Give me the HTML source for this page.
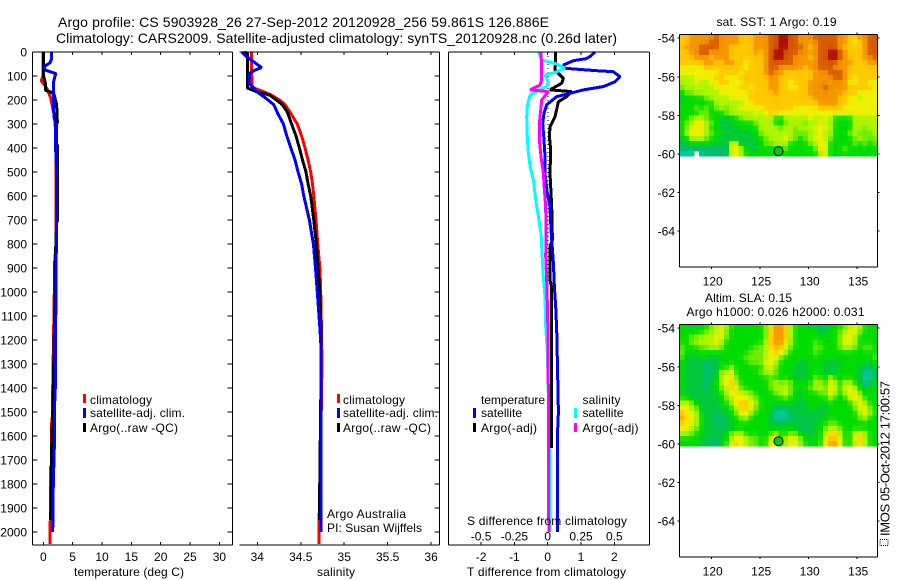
<!DOCTYPE html>
<html lang="en">
<head>
<meta charset="utf-8">
<title>Argo profile</title>
<style>
html,body{margin:0;padding:0;background:#fff;width:900px;height:580px;overflow:hidden}
svg{display:block}
text{font-family:"Liberation Sans",Arial,sans-serif;font-size:12px;fill:#000}
</style>
</head>
<body>
<svg id="chart" xmlns="http://www.w3.org/2000/svg" width="900" height="580" viewBox="0 0 900 580">
  <rect x="0" y="0" width="900" height="580" fill="#fff"/>
  <g id="marks"></g>
  <text x="58" y="27" textLength="491" style="font-size:14px">Argo profile: CS 5903928_26 27-Sep-2012 20120928_256 59.861S 126.886E</text>
  <text x="56" y="43" textLength="561" style="font-size:14px">Climatology: CARS2009. Satellite-adjusted climatology: synTS_20120928.nc (0.26d later)</text>

  <text x="74" y="576" textLength="110">temperature (deg C)</text>
  <text x="317" y="576" textLength="38">salinity</text>
  <text x="467" y="576" textLength="159">T difference from climatology</text>
  <text x="467" y="525" textLength="160">S difference from climatology</text>

  <g>
    <rect x="83" y="394" width="3" height="9" fill="#f00"/>
    <rect x="83" y="408" width="3" height="10" fill="#00f"/>
    <rect x="83" y="423" width="3" height="9" fill="#000"/>
    <text x="90" y="404" textLength="62">climatology</text>
    <text x="90" y="417" textLength="95">satellite-adj. clim.</text>
    <text x="90" y="432" textLength="88">Argo(..raw -QC)</text>
  </g>
  <g>
    <rect x="337" y="394" width="3" height="9" fill="#f00"/>
    <rect x="337" y="408" width="3" height="10" fill="#00f"/>
    <rect x="337" y="423" width="3" height="9" fill="#000"/>
    <text x="343" y="404" textLength="62">climatology</text>
    <text x="343" y="417" textLength="95">satellite-adj. clim.</text>
    <text x="343" y="432" textLength="88">Argo(..raw -QC)</text>
    <text x="327" y="518" textLength="79">Argo Australia</text>
    <text x="327" y="532" textLength="95">PI: Susan Wijffels</text>
  </g>
  <g>
    <text x="481" y="404" textLength="64">temperature</text>
    <text x="582.5" y="404" textLength="38">salinity</text>
    <rect x="473" y="408" width="3" height="10" fill="#00f"/>
    <rect x="473" y="423" width="3" height="9" fill="#000"/>
    <rect x="574" y="408" width="3" height="10" fill="#0ff"/>
    <rect x="574" y="423" width="3" height="9" fill="#f0f"/>
    <text x="481" y="417" textLength="41">satellite</text>
    <text x="481" y="432" textLength="56">Argo(-adj)</text>
    <text x="582.5" y="417" textLength="41">satellite</text>
    <text x="582.5" y="432" textLength="56">Argo(-adj)</text>
  </g>

  <text x="716.5" y="26" textLength="120">sat. SST: 1 Argo: 0.19</text>
  <text x="705" y="302" textLength="87">Altim. SLA: 0.15</text>
  <text x="686.5" y="316" textLength="178">Argo h1000: 0.026 h2000: 0.031</text>

  <g>
    <rect x="880" y="539.5" width="8" height="6" fill="none" stroke="#000" stroke-width="1" stroke-dasharray="1 1"/>
    <text transform="translate(889.5 536) rotate(-90)" x="0" y="0" textLength="155" style="font-size:13px">IMOS 05-Oct-2012 17:00:57</text>
  </g>
</svg>
<script>
// ---- axis ticks ----
const depthTicks = [0,100,200,300,400,500,600,700,800,900,1000,1100,1200,1300,1400,1500,1600,1700,1800,1900,2000];
const tempTicks = [0,5,10,15,20,25,30];
const salinityTicks = [34,34.5,35,35.5,36];
const salinityTickLabels = ['34','34.5','35','35.5','36'];
const tDiffTicks = [-2,-1,0,1,2];
const tDiffTickLabels = ['-2','-1','0','1','2'];
const sDiffTicks = [-0.5,-0.25,0,0.25,0.5];
const sDiffTickLabels = ['-0.5','-0.25','0','0.25','0.5'];
const lonTicks = [120,125,130,135];
const latTicks = [-54,-56,-58,-60,-62,-64];

// ---- temperature profiles ----
const tempClimDepth = [0,100,120,150,190,280,400,800,880,1000,1400,1500,1550,1720,1730,1950,1960,2050];
const tempClimValue = [-0.05,-0.05,-0.35,0.57,1.25,2.0,2.16,2.16,1.93,1.88,1.6,1.6,1.42,1.42,1.25,1.25,1.13,1.13];
const tempArgoDepth = [0,100,130,160,165,175,220,295,300,385,390,705,710,900,1000,1400,1500,1650,1800,1950];
const tempArgoValue = [0.05,0.05,0.35,0.4,1.1,1.8,2.27,2.4,2.27,2.27,2.4,2.4,2.27,2.0,2.0,1.7,1.6,1.42,1.37,1.25];
const tempSatDepth = [0,30,45,60,75,90,100,130,200,270,300,400,500,900,1000,1400,1500,1650,1800,2000];
const tempSatValue = [1.4,1.4,1.14,0.17,0.3,2.15,2.0,1.7,1.7,1.8,2.1,2.1,2.27,2.2,2.15,2.05,1.88,1.88,1.7,1.6];

// ---- salinity profiles ----
const salClimDepth = [0,100,110,140,150,165,180,200,220,250,300,350,400,450,500,550,600,700,800,900,1000,1100,1200,1300,1400,1650,1850,2050];
const salClimValue = [33.935,33.935,33.94,33.94,33.96,34.07,34.165,34.255,34.32,34.375,34.46,34.51,34.55,34.585,34.615,34.635,34.65,34.675,34.695,34.72,34.73,34.735,34.74,34.745,34.74,34.73,34.715,34.71];
const salArgoDepth = [0,5,150,165,180,200,220,250,300,350,400,450,500,550,600,700,800,900,1000,1100,1300,1740,1950];
const salArgoValue = [33.85,33.885,33.885,33.99,34.145,34.22,34.29,34.345,34.395,34.445,34.485,34.52,34.56,34.585,34.615,34.65,34.68,34.70,34.72,34.73,34.735,34.72,34.715];
const salSatDepth = [0,20,40,65,75,90,130,150,170,190,220,260,300,350,400,450,500,550,600,700,800,900,1000,1100,1200,1300,1500,2000];
const salSatValue = [33.82,33.88,33.955,34.05,33.975,33.91,33.905,33.955,34.01,34.09,34.19,34.24,34.30,34.34,34.385,34.435,34.47,34.51,34.535,34.60,34.645,34.67,34.69,34.71,34.73,34.735,34.735,34.735];

// ---- difference profiles ----
const sDiffSatDepth = [0,33,50,68,85,96,124,144,165,179,220,270,367,422,478,533,589,644,728,783,811,922,1019,1144,1255,1435,1650,1660,2000];
const sDiffSatValue = [-0.07,-0.045,0.0675,0.13,0.055,-0.02,0.005,-0.0075,-0.0825,-0.1325,-0.1525,-0.1575,-0.1525,-0.145,-0.1325,-0.1075,-0.095,-0.0825,-0.0575,-0.045,-0.045,-0.035,-0.02,-0.015,-0.0025,0.005,0.005,0.0175,0.0175];
const sDiffArgoDepth = [0,50,117,138,158,165,200,297,367,436,505,575,644,783,850,950,1100,1460,1650,2000];
const sDiffArgoValue = [-0.0525,-0.045,-0.045,-0.0575,-0.1325,0.005,-0.045,-0.0625,-0.0625,-0.05,-0.0325,-0.025,-0.015,-0.0125,-0.015,-0.0075,0,0.005,0.005,0.008];
const tDiffSatDepth = [0,18,28,36,54,68,78,82,103,124,144,158,172,186,220,255,297,367,436,505,575,644,741,880,980,1062,1158,1354,1500,1600,2000];
const tDiffSatValue = [1.42,1.28,1.15,0.78,0.47,0.52,1.47,1.97,2.17,2.02,1.67,1.07,0.67,0.27,-0.03,-0.11,-0.15,-0.11,-0.08,-0.08,-0.03,0.07,0.10,0.17,0.20,0.24,0.27,0.30,0.32,0.29,0.29];
const tDiffArgoDepth = [0,33,75,110,130,158,165,186,207,270,311,353,408,505,644,783,810,950,980,1150,1650];
const tDiffArgoValue = [0.24,0.24,0.22,0.47,0.42,0.07,0.72,0.57,0.32,0.22,0.07,0.05,0.09,0.07,0.12,0.14,0.07,0.07,0.12,0.12,0.12];

// ---- maps: colour level per cell, top row first ----
const levelColors = ['#00cda0','#00be6e','#00c83c','#00dc00','#6eeb00','#aff500','#f0f000','#ffc800','#f59600','#d75a00','#aa0a00'];
const argoLon = 126.886;
const argoLat = -59.861;
const sstGrid = [
[7,7,8,8,8,8,8,9,8,8,8,8,7,7,7,8,8,8,9,9,10,10,9,9,8,8,8,9,9,9,9,9,8,8,7,7,8,8,9,9],
[7,7,8,8,8,8,9,9,8,8,8,8,7,7,7,8,8,8,9,9,10,10,9,9,8,8,8,8,9,9,9,9,8,8,7,6,7,8,9,9],
[7,8,8,8,9,9,9,9,8,8,7,7,7,7,7,8,8,8,9,9,10,10,9,9,9,8,7,8,9,9,9,9,8,7,7,7,7,8,9,9],
[7,7,8,8,9,9,8,8,8,8,7,7,7,7,7,8,7,8,9,10,10,9,9,9,8,8,8,8,9,9,10,10,9,8,7,7,7,8,9,9],
[7,7,7,8,8,8,7,8,8,8,7,7,7,7,7,7,7,8,9,10,10,9,9,8,8,8,7,8,9,9,10,10,9,8,7,7,7,8,8,9],
[7,7,7,7,7,8,8,7,7,8,8,7,7,6,7,7,7,8,9,9,9,9,9,8,8,8,8,8,9,9,9,9,8,8,8,7,7,7,8,8],
[6,6,6,6,6,7,7,7,7,7,7,7,7,6,7,7,7,8,9,9,8,8,8,8,8,7,8,8,9,9,9,8,8,8,7,7,7,7,7,7],
[6,6,6,6,6,6,6,6,7,7,7,7,6,7,7,7,7,8,9,8,8,7,7,7,7,7,7,8,8,8,9,9,9,8,7,7,7,7,7,7],
[5,5,5,6,6,6,6,7,7,6,6,6,7,7,7,7,7,7,8,8,7,7,7,7,7,7,7,8,8,8,8,9,9,8,7,6,7,7,7,7],
[5,5,5,6,5,5,6,6,7,7,6,6,6,7,7,7,7,7,8,8,7,7,6,7,7,7,8,8,8,8,8,8,8,8,6,6,7,7,6,6],
[4,5,5,5,5,5,5,6,6,6,6,6,7,7,6,7,7,7,8,8,7,7,6,6,7,7,8,8,8,9,8,8,8,8,7,7,7,7,7,6],
[3,4,4,5,5,5,5,5,6,6,6,6,6,6,7,7,7,7,7,8,7,7,7,7,7,7,8,8,8,8,8,8,8,7,7,7,6,6,6,6],
[2,3,3,3,3,4,5,5,5,5,6,6,6,6,7,7,7,7,7,7,7,7,7,7,7,7,7,8,8,8,8,8,7,7,6,6,5,6,6,6],
[3,3,3,3,3,3,3,5,5,5,5,5,5,6,6,7,7,7,7,7,7,7,7,7,7,7,7,7,8,8,8,8,7,7,6,6,6,6,6,6],
[3,3,3,4,3,4,3,4,5,4,5,5,6,6,6,6,6,7,7,7,7,7,7,6,6,6,6,6,7,7,7,7,7,6,6,6,6,6,6,6],
[3,3,3,3,4,4,3,3,3,4,5,5,5,5,5,6,5,6,7,7,6,6,6,6,6,6,6,6,6,6,6,6,6,6,6,6,6,6,6,6],
[3,3,4,5,5,4,3,3,2,2,3,3,4,5,5,5,5,5,5,3,3,5,5,5,5,5,6,5,5,6,5,3,3,3,3,5,5,5,5,5],
[3,4,5,6,6,5,4,3,2,2,2,3,3,3,3,4,5,5,5,3,3,4,5,5,5,4,5,5,6,5,5,3,3,3,3,5,5,5,5,5],
[3,4,6,6,6,5,3,3,2,2,2,2,3,3,3,3,5,5,5,5,4,5,5,4,5,5,5,6,6,6,5,3,3,3,3,5,5,4,5,5],
[3,5,6,6,6,5,4,3,3,2,2,2,2,2,2,3,4,5,5,5,5,5,5,4,4,4,5,5,6,5,5,3,3,3,4,5,4,4,4,5],
[2,3,5,5,5,4,3,3,2,2,2,2,2,2,2,3,3,4,5,5,5,6,5,4,3,4,5,6,6,5,4,3,3,3,3,4,5,4,4,4],
[2,2,3,3,3,3,3,2,2,2,6,6,2,2,2,2,3,4,4,5,5,5,3,3,3,3,4,5,6,6,3,3,3,3,3,4,3,4,3,4],
[1,1,1,1,1,1,1,1,1,1,6,6,5,3,2,2,3,3,3,3,3,4,3,3,3,3,3,4,6,6,3,3,3,4,3,3,3,3,3,3],
[0,0,0,null,0,1,1,1,1,1,6,6,5,3,3,3,3,3,3,3,3,3,3,3,3,3,3,3,5,6,3,2,3,3,3,3,3,3,3,3]
];
const slaGrid = [
[3,3,2,3,3,3,4,5,6,5,3,3,3,3,3,3,3,4,7,8,8,7,5,3,3,3,2,3,1,1,3,3,3,4,5,6,5,3,3,3],
[3,3,3,3,3,4,5,5,6,4,3,3,3,3,3,3,3,4,7,8,8,7,5,3,3,3,3,3,2,2,3,3,4,5,6,6,4,3,3,3],
[3,3,4,4,5,5,5,6,6,4,3,3,3,3,3,3,3,4,7,8,8,7,5,3,3,3,3,3,3,3,3,3,4,6,6,5,3,3,3,3],
[3,3,4,5,5,5,5,6,5,3,3,3,3,3,3,3,3,5,7,8,8,6,5,3,3,3,3,4,3,3,3,3,4,6,6,5,3,3,3,3],
[4,3,3,3,4,4,5,5,4,3,3,3,3,3,3,4,4,5,7,7,7,6,4,3,3,3,3,4,4,3,3,3,4,5,5,4,3,4,4,3],
[4,3,3,3,3,3,3,3,3,3,3,3,3,3,4,4,4,5,6,7,6,5,3,3,3,3,3,4,3,3,3,3,3,3,3,3,3,3,3,3],
[4,2,2,2,3,3,2,2,3,3,3,3,3,4,4,4,4,5,6,6,4,3,3,3,3,3,3,3,3,3,3,3,3,3,3,3,3,3,3,4],
[3,2,2,2,2,1,1,2,3,3,3,3,3,3,4,4,4,6,6,5,3,3,3,3,2,2,3,3,3,2,2,2,2,3,3,3,3,3,2,3],
[3,2,2,2,2,1,1,2,3,3,5,3,3,3,3,3,3,5,6,4,3,3,3,2,2,2,3,3,3,2,2,2,3,3,3,3,2,1,1,2],
[3,2,2,2,2,1,1,2,5,5,6,3,3,3,3,3,4,5,5,4,3,3,3,2,2,2,3,3,3,2,2,2,3,3,3,3,2,0,0,2],
[3,2,2,2,2,1,1,3,5,6,7,4,3,3,3,3,3,3,4,3,3,3,3,2,2,2,3,4,3,3,5,3,3,3,3,3,2,0,0,2],
[3,2,2,2,2,1,2,3,5,6,7,5,3,3,3,3,3,3,4,5,4,5,4,3,3,3,3,5,5,3,6,5,3,5,5,3,2,0,1,3],
[3,2,2,2,2,1,2,3,4,5,7,6,4,3,3,3,3,3,4,5,5,5,4,3,3,3,4,5,5,4,6,6,3,6,6,5,3,2,3,3],
[3,2,2,2,2,2,2,3,3,5,6,7,5,5,4,3,3,3,3,4,5,6,4,3,2,3,3,3,4,4,6,5,3,5,6,6,4,3,3,3],
[3,3,2,2,2,2,2,2,3,4,5,6,6,6,5,4,3,3,3,3,3,4,3,3,2,3,3,3,3,3,5,3,3,3,6,6,6,3,3,3],
[5,6,4,3,2,2,2,2,3,3,5,6,7,7,6,5,3,3,3,3,3,3,3,2,2,2,3,3,3,3,3,3,3,3,3,5,6,5,3,3],
[6,6,5,4,2,2,2,2,2,3,3,5,7,7,6,4,3,3,3,1,1,1,2,2,2,2,3,3,2,2,3,3,3,3,3,4,6,6,4,3],
[7,6,6,5,3,2,2,1,2,2,3,4,6,6,5,3,3,3,2,0,0,0,1,2,2,2,2,2,2,2,3,3,3,3,3,3,5,6,5,3],
[8,6,6,5,3,2,2,1,1,2,3,3,4,5,3,3,3,3,2,0,0,0,1,2,2,2,2,2,2,3,3,3,3,3,3,3,4,5,3,3],
[7,6,6,5,3,2,2,1,1,2,2,3,3,3,3,3,3,3,2,1,2,2,2,2,2,1,2,2,3,3,4,4,3,3,3,3,3,3,3,3],
[6,6,5,4,3,2,2,2,1,2,2,3,3,3,3,3,3,3,3,3,3,3,3,2,2,1,2,2,3,4,5,5,4,3,3,3,3,3,3,3],
[5,5,4,3,3,2,2,2,2,3,4,5,5,3,3,3,3,3,3,5,3,3,4,4,3,2,2,3,3,5,7,7,5,3,3,6,6,5,3,3],
[3,3,3,3,2,2,1,1,2,3,5,6,6,5,4,4,3,3,6,7,3,5,6,6,4,3,2,3,3,6,7,7,6,3,3,6,7,5,3,3],
[3,3,3,3,2,2,1,1,3,3,6,7,6,5,4,4,3,3,6,7,3,5,6,6,5,3,3,3,3,6,8,8,6,3,3,5,7,5,3,3]
];

// ---- geometry ----
const SVGNS = 'http://www.w3.org/2000/svg';
const marks = document.getElementById('marks');
const yDepth = function (d) { return 52 + d * 0.24; };
const xTemp = function (v) { return 43.3 + v * 5.87; };
const xSal = function (v) { return 257.3 + (v - 34) * 86.9; };
const xTDiff = function (v) { return 547.7 + v * 33.3; };
const xSDiff = function (v) { return 547.7 + v * 133.2; };
const xLon = function (v) { return 711.7 + (v - 120) * 9.7; };
const lonStart = 116.66;
const lonStep = 0.5103;
const latStart = -53.81;
const latStep = 0.2625;

function makeLine(parent, x1, y1, x2, y2) {
  const l = document.createElementNS(SVGNS, 'line');
  l.setAttribute('x1', x1);
  l.setAttribute('y1', y1);
  l.setAttribute('x2', x2);
  l.setAttribute('y2', y2);
  l.setAttribute('stroke', '#000');
  l.setAttribute('stroke-width', '1');
  l.setAttribute('shape-rendering', 'crispEdges');
  parent.appendChild(l);
  return l;
}
function makeText(parent, x, y, anchor, str) {
  const t = document.createElementNS(SVGNS, 'text');
  t.setAttribute('x', x);
  t.setAttribute('y', y);
  t.setAttribute('text-anchor', anchor);
  t.textContent = str;
  parent.appendChild(t);
  return t;
}
function makeGroup(parent) {
  const g = document.createElementNS(SVGNS, 'g');
  parent.appendChild(g);
  return g;
}
function drawProfile(parent, xFn, depths, values, color, name) {
  const pts = depths.map(function (d, i) { return xFn(values[i]).toFixed(1) + ',' + yDepth(d).toFixed(1); }).join(' ');
  const p = document.createElementNS(SVGNS, 'polyline');
  p.setAttribute('points', pts);
  p.setAttribute('fill', 'none');
  p.setAttribute('stroke', color);
  p.setAttribute('stroke-width', '3');
  p.setAttribute('stroke-linejoin', 'bevel');
  p.setAttribute('shape-rendering', 'crispEdges');
  
  
  parent.appendChild(p);
}

// ---- profile panels ----
function drawFrame(g, left, right, hasLeft, hasRight) {
  makeLine(g, left, 52, right, 52);
  makeLine(g, left, 545, right, 545);
  if (hasLeft) makeLine(g, left, 52, left, 545);
  if (hasRight) makeLine(g, right, 52, right, 545);
}
function drawDepthTicks(g, left, right, withLabels, withLeft) {
  depthTicks.forEach(function (d) {
    const y = yDepth(d);
    if (withLeft) makeLine(g, left, y, left + 5, y);
    makeLine(g, right - 5, y, right, y);
    if (withLabels) {
      const t = makeText(g, 27, y + 4.5, 'end', String(d));
      
      
    }
  });
}
function drawXTicks(g, ticks, labels, xFn, name) {
  ticks.forEach(function (v, i) {
    const x = xFn(v);
    makeLine(g, x, 52, x, 55);
    makeLine(g, x, 542, x, 545);
    const t = makeText(g, x, 561, 'middle', labels[i]);
    
    
  });
}

const panelTemp = makeGroup(marks);


drawProfile(panelTemp, xTemp, tempClimDepth, tempClimValue, '#f00', 'temperature-climatology-line');
drawProfile(panelTemp, xTemp, tempArgoDepth, tempArgoValue, '#000', 'temperature-argo-line');
drawProfile(panelTemp, xTemp, tempSatDepth, tempSatValue, '#00f', 'temperature-satellite-line');
drawFrame(panelTemp, 32.5, 232.5, true, true);
drawDepthTicks(panelTemp, 32.5, 232.5, true, true);
drawXTicks(panelTemp, tempTicks, tempTicks.map(String), xTemp, 'temperature-tick-label');

const panelSal = makeGroup(marks);


drawProfile(panelSal, xSal, salClimDepth, salClimValue, '#f00', 'salinity-climatology-line');
drawProfile(panelSal, xSal, salArgoDepth, salArgoValue, '#000', 'salinity-argo-line');
drawProfile(panelSal, xSal, salSatDepth, salSatValue, '#00f', 'salinity-satellite-line');
drawFrame(panelSal, 239.5, 439.5, false, true);
drawDepthTicks(panelSal, 239.5, 439.5, false, false);
drawXTicks(panelSal, salinityTicks, salinityTickLabels, xSal, 'salinity-tick-label');

const panelDiff = makeGroup(marks);


const zeroLine = makeLine(panelDiff, xTDiff(0) + 0.5, 52, xTDiff(0) + 0.5, 530);
zeroLine.setAttribute('stroke-dasharray', '1 3');


drawProfile(panelDiff, xTDiff, tDiffArgoDepth, tDiffArgoValue, '#000', 't-difference-argo-line');
drawProfile(panelDiff, xTDiff, tDiffSatDepth, tDiffSatValue, '#00f', 't-difference-satellite-line');
drawProfile(panelDiff, xSDiff, sDiffSatDepth, sDiffSatValue, '#0ff', 's-difference-satellite-line');
drawProfile(panelDiff, xSDiff, sDiffArgoDepth, sDiffArgoValue, '#f0f', 's-difference-argo-line');
drawFrame(panelDiff, 448.5, 649.5, true, true);
drawXTicks(panelDiff, tDiffTicks, tDiffTickLabels, xTDiff, 't-difference-tick-label');
sDiffTicks.forEach(function (v, i) {
  const t = makeText(panelDiff, xSDiff(v), 540.5, 'middle', sDiffTickLabels[i]);
  
  
});

// ---- maps ----
function hexToRgb(h) {
  return [parseInt(h.slice(1, 3), 16), parseInt(h.slice(3, 5), 16), parseInt(h.slice(5, 7), 16)];
}
function colorForLevel(level) {
  const lo = Math.max(0, Math.min(levelColors.length - 1, Math.floor(level)));
  const hi = Math.min(levelColors.length - 1, lo + 1);
  const f = Math.max(0, Math.min(1, level - lo));
  const a = hexToRgb(levelColors[lo]);
  const b = hexToRgb(levelColors[hi]);
  return 'rgb(' + a.map(function (v, i) { return Math.round(v + (b[i] - v) * f); }).join(',') + ')';
}
// The continuous colour field of the source is softened by mixing each cell with its neighbours.
function softenedLevel(grid, r, c, ownWeight) {
  const neighbours = [[r - 1, c], [r + 1, c], [r, c - 1], [r, c + 1]];
  let sum = 0;
  let n = 0;
  neighbours.forEach(function (p) {
    const row = grid[p[0]];
    if (row && row[p[1]] !== undefined && row[p[1]] !== null) {
      sum += row[p[1]];
      n += 1;
    }
  });
  const own = grid[r][c];
  return n ? own * ownWeight + (sum / n) * (1 - ownWeight) : own;
}
function drawMap(grid, frameTop, name, ownWeight) {
  const g = makeGroup(marks);
  
  
  const yLat = function (lat) { return frameTop + 3.7 + (-54 - lat) * 19.28; };
  const left = 679.5, right = 877.5, bottom = frameTop + 232.4;
  const rowH = latStep * 19.28;
  const colW = lonStep * 9.7;
  grid.forEach(function (row, r) {
    row.forEach(function (level, c) {
      if (level === null) return;
      const rect = document.createElementNS(SVGNS, 'rect');
      rect.setAttribute('x', xLon(lonStart + c * lonStep).toFixed(2));
      rect.setAttribute('y', yLat(latStart - r * latStep).toFixed(2));
      rect.setAttribute('width', (colW + 0.4).toFixed(2));
      rect.setAttribute('height', (rowH + 0.4).toFixed(2));
      rect.setAttribute('fill', colorForLevel(softenedLevel(grid, r, c, ownWeight)));
      rect.setAttribute('shape-rendering', 'crispEdges');
      
      
      g.appendChild(rect);
    });
  });
  makeLine(g, left, frameTop, right, frameTop);
  makeLine(g, left, bottom, right, bottom);
  makeLine(g, left, frameTop, left, bottom);
  makeLine(g, right, frameTop, right, bottom);
  lonTicks.forEach(function (v) {
    const x = xLon(v);
    makeLine(g, x, frameTop - 2, x, frameTop);
    makeLine(g, x, bottom, x, bottom + 2);
    const t = makeText(g, x + 1, bottom + 18.5, 'middle', String(v));
    
    
  });
  latTicks.forEach(function (v) {
    const y = yLat(v);
    makeLine(g, left - 2, y, left, y);
    makeLine(g, right, y, right + 2, y);
    const t = makeText(g, 675, y + 4.5, 'end', String(v));
    
    
  });
  const dot = document.createElementNS(SVGNS, 'circle');
  dot.setAttribute('cx', xLon(argoLon).toFixed(1));
  dot.setAttribute('cy', yLat(argoLat).toFixed(1));
  dot.setAttribute('r', '4.5');
  dot.setAttribute('fill', '#00c81e');
  dot.setAttribute('stroke', '#000');
  dot.setAttribute('stroke-width', '1');
  
  
  g.appendChild(dot);
}
drawMap(sstGrid, 34.5, 'sst-map', 0.65);
drawMap(slaGrid, 324.5, 'sla-map', 0.5);
</script>
</body>
</html>
